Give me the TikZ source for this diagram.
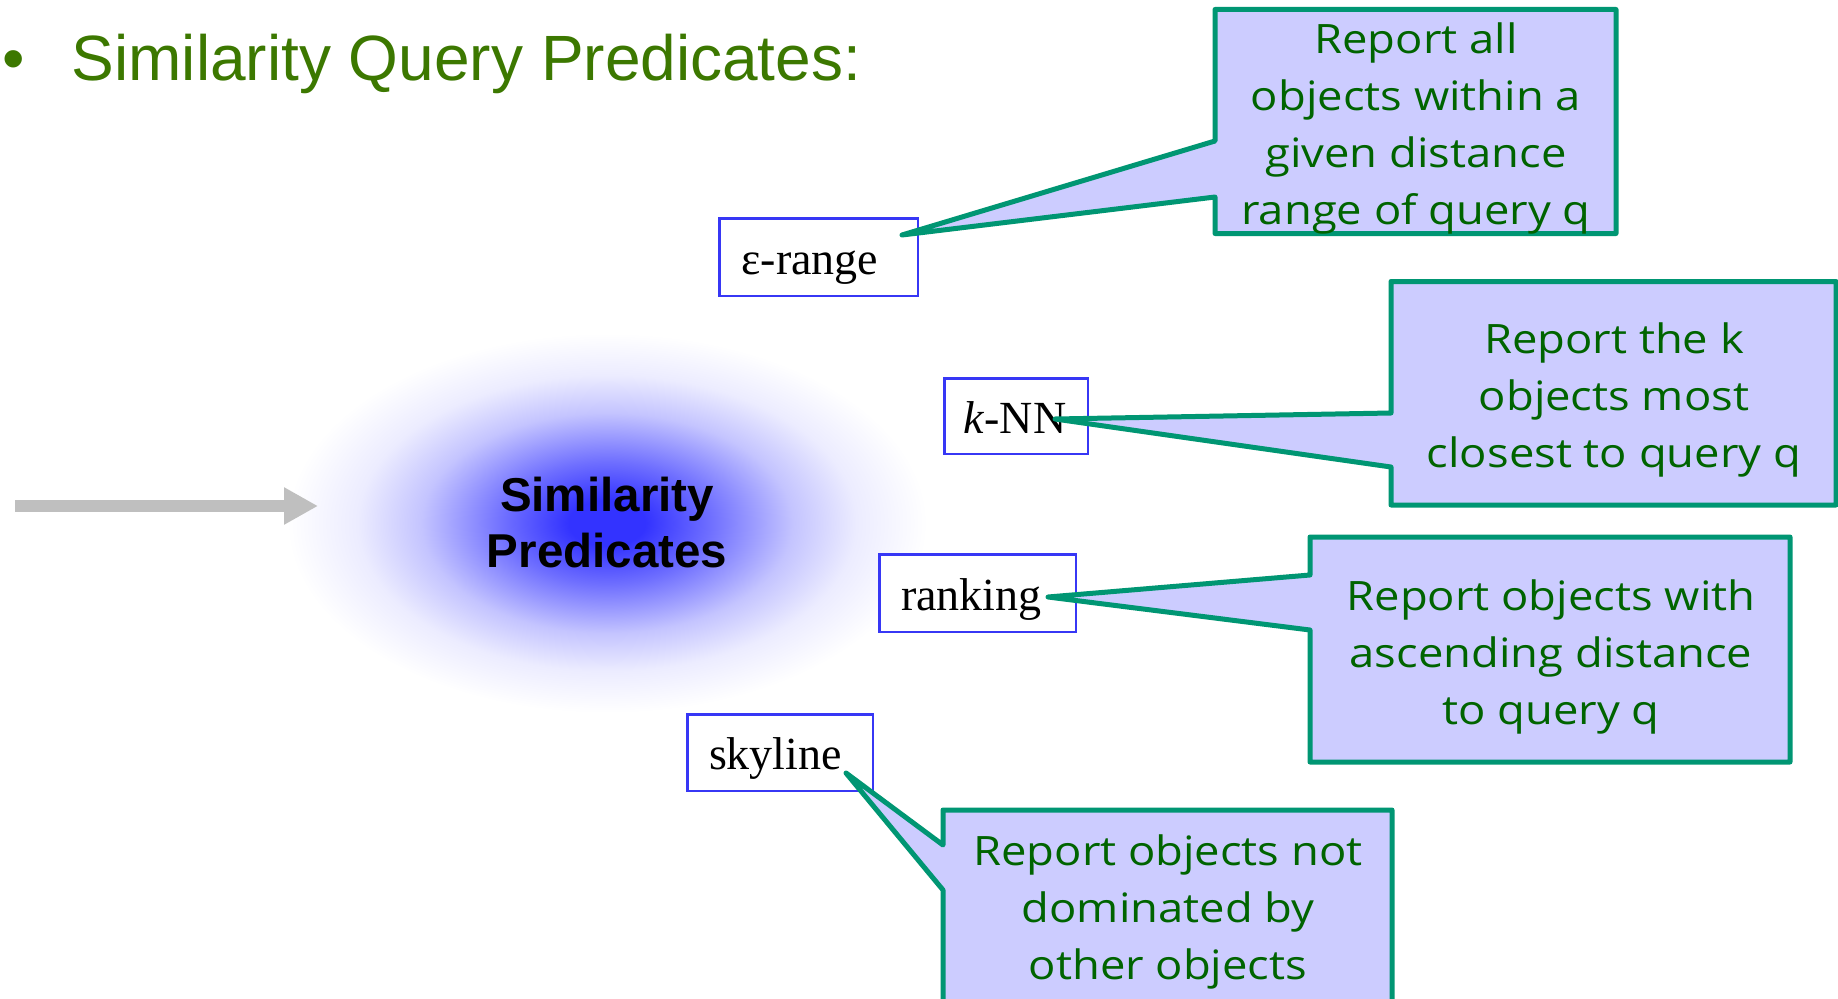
\documentclass[tikz,border=0pt]{standalone}
\usepackage{fontspec}
\setmainfont{Liberation Serif}
\newfontfamily\headfont{Liberation Sans}
\newfontfamily\callfont[FakeStretch=1.12]{Open Sans}
\usetikzlibrary{arrows.meta,shapes.geometric}

\definecolor{titlegreen}{RGB}{60,120,0}
\definecolor{termblue}{RGB}{55,55,245}
\definecolor{calloutedge}{RGB}{0,150,115}
\definecolor{calloutfill}{RGB}{204,204,255}
\definecolor{calltextgreen}{RGB}{0,100,0}
\definecolor{arrowgray}{RGB}{191,191,191}
\definecolor{glowA}{RGB}{51,51,255}
\definecolor{glowB}{RGB}{110,110,255}
\definecolor{glowC}{RGB}{196,196,255}
\definecolor{glowD}{RGB}{236,236,255}

% soft blue glow behind the central label
\pgfdeclareradialshading{glow}{\pgfpoint{0bp}{0bp}}{%
  color(0bp)=(glowA); color(3bp)=(glowA); color(8bp)=(glowB);
  color(14.5bp)=(glowC); color(19.5bp)=(glowD); color(25bp)=(white);
  color(50bp)=(white)}

% centred lines; the box baseline is that of the first line
\newcommand\calltext[1]{\vtop{\halign{\hfil##\hfil\cr#1\crcr}}}

\begin{document}
\begin{tikzpicture}[x=1pt,y=-1pt,
  termbox/.style={draw=termblue, line width=2.5pt, fill=white, inner sep=0pt,
    font=\fontsize{46}{50}\selectfont, text height=40pt, text depth=6pt},
  rpad/.style={execute at end node={\kern#1pt}},
  calloutshape/.style={draw=calloutedge, fill=calloutfill, line width=5pt,
    line join=round},
  calltxt/.style={anchor=base, inner sep=0pt, text=calltextgreen,
    font=\callfont\fontsize{40.5}{57}\selectfont},
  headline/.style={anchor=base west, inner sep=0pt, text=titlegreen,
    font=\headfont\fontsize{64}{70}\selectfont},
  glowlabel/.style={anchor=base, inner sep=0pt,
    font=\headfont\bfseries\fontsize{47.5}{56}\selectfont},
]
\clip (0,0) rectangle (1838,998);
\fill[white] (0,0) rectangle (1838,998);

% heading
\node[headline] (bullet) at (2,80.7) {•};
\node[headline] (title) at (71.5,80.7) {Similarity Query Predicates:};

% central glow with its label
\node[ellipse, minimum width=640pt, minimum height=380pt, inner sep=0pt,
      shade, shading=glow] (blob) at (607,523) {};
\node[glowlabel] (blobtop) at (607,511) {Similarity};
\node[glowlabel] (blobbot) at (607,567) {Predicates};

% incoming arrow
\coordinate (arrowtail) at (15,506);
\coordinate (arrowtip) at (318,506);
\draw[line width=12pt, draw=arrowgray, -{Triangle[length=34pt,width=35pt]}]
  (arrowtail) -- (arrowtip);

% predicate boxes
\node[termbox, rpad=17, minimum width=198.5pt, minimum height=77.5pt] (erange) at (818.5,257) {ε-range};
\node[termbox, rpad=2, minimum width=143.5pt, minimum height=75.5pt] (knn) at (1016,416) {\textit{k}-NN};
\node[termbox, rpad=12, minimum width=196.5pt, minimum height=77.5pt] (ranking) at (977.5,593) {ranking};
\node[termbox, rpad=9, minimum width=185.5pt, minimum height=76.5pt] (skyline) at (780,752.5) {skyline};

% callout tips
\coordinate (tip1) at (902,235);
\coordinate (tip2) at (1055,419);
\coordinate (tip3) at (1048,597);
\coordinate (tip4) at (846,773);

% callout outlines
\path[calloutshape] (1215,9.5) -- (1616,9.5) -- (1616,233.5) -- (1215,233.5)
  -- (1215,197) -- (tip1) -- (1215,141) -- cycle;
\path[calloutshape] (1391,281.5) -- (1836,281.5) -- (1836,505) -- (1391,505)
  -- (1391,467) -- (tip2) -- (1391,413) -- cycle;
\path[calloutshape] (1310,537) -- (1790,537) -- (1790,762) -- (1310,762)
  -- (1310,630) -- (tip3) -- (1310,575) -- cycle;
\path[calloutshape] (943,810) -- (1392,810) -- (1392,1010) -- (943,1010)
  -- (943,890) -- (tip4) -- (943,845) -- cycle;

% callout texts
\node[calltxt] (note1) at (1416,53.6)
  {\calltext{Report all\cr objects within a\cr given distance\cr range of query q}};
\node[calltxt] (note2) at (1614,353)
  {\calltext{Report the k\cr objects most\cr closest to query q}};
\node[calltxt] (note3) at (1551,610)
  {\calltext{Report objects with\cr ascending distance\cr to query q}};
\node[calltxt] (note4) at (1168,865)
  {\calltext{Report objects not\cr dominated by\cr other objects}};
\end{tikzpicture}
\end{document}
